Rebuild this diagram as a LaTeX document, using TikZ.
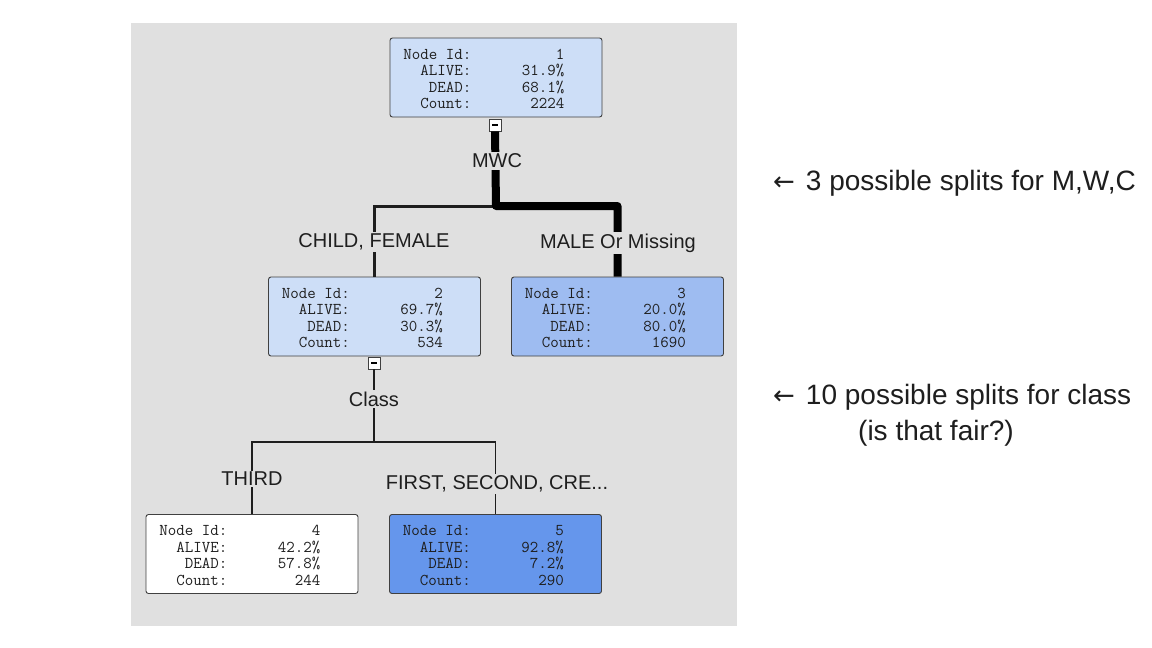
\documentclass[tikz,border=0pt]{standalone}
\usepackage{fontspec}
\setmainfont{Liberation Sans}
\newfontfamily\arrowfont{DejaVu Sans}
\definecolor{panel}{HTML}{E0E0E0}
\definecolor{paleblue}{HTML}{CDDEF7}
\definecolor{midblue}{HTML}{9EBCF1}
\definecolor{deepblue}{HTML}{6596EC}
\definecolor{ink}{HTML}{1E1E1E}
\tikzset{
  x=1pt, y=-1pt,
  treebox/.style={draw=black!75, rounded corners=2.5pt, minimum width=212pt,
    minimum height=79pt, inner sep=0pt, line width=0.9pt},
  ttl/.style={font=\ttfamily\fontsize{16.5}{17}\selectfont, anchor=base east,
    inner sep=0pt, text=ink},
  branch/.style={font=\fontsize{20}{24}\selectfont, fill=panel, inner sep=1.5pt, text=ink},
  note/.style={font=\fontsize{28}{32}\selectfont, anchor=west, inner sep=0pt, text=ink},
  toggle/.style={draw=black!75, fill=white, minimum size=12pt, inner sep=0pt,
    line width=0.8pt,
    path picture={\draw[line width=1.2pt, black]
      ([xshift=3pt]path picture bounding box.west) --
      ([xshift=-3pt]path picture bounding box.east);}},
  heavy/.style={line width=8pt, draw=black, line join=round},
  medium/.style={line width=3pt, draw=ink},
  light/.style={line width=2pt, draw=ink},
  hair/.style={line width=1.5pt, draw=ink},
}
\newcommand\treenode[8]{%
  \node[treebox, fill=#4] (#1) at (#2,#3) {};
  \node[ttl] at ([shift={(82,21.5)}]#1.north west) {Node Id:};
  \node[ttl] at ([shift={(175,21.5)}]#1.north west) {#5};
  \node[ttl] at ([shift={(82,38)}]#1.north west) {ALIVE:};
  \node[ttl] at ([shift={(175,38)}]#1.north west) {#6};
  \node[ttl] at ([shift={(82,54.5)}]#1.north west) {DEAD:};
  \node[ttl] at ([shift={(175,54.5)}]#1.north west) {#7};
  \node[ttl] at ([shift={(82,71)}]#1.north west) {Count:};
  \node[ttl] at ([shift={(175,71)}]#1.north west) {#8};
}
\newcommand\leftarr{{\arrowfont\fontsize{26}{28}\selectfont ←}\hspace{11pt}}
\begin{document}
\begin{tikzpicture}
\useasboundingbox (0,0) rectangle (1152,648);
\fill[white] (0,0) rectangle (1152,648);
\fill[panel] (131,23) rectangle (737,626);

% nodes
\treenode{n1}{496}{77.5}{paleblue}{1}{31.9\%}{68.1\%}{2224}
\treenode{n2}{374.5}{316.5}{paleblue}{2}{69.7\%}{30.3\%}{534}
\treenode{n3}{617.5}{316.5}{midblue}{3}{20.0\%}{80.0\%}{1690}
\treenode{n4}{252}{554}{white}{4}{42.2\%}{57.8\%}{244}
\treenode{n5}{495.5}{554}{deepblue}{5}{92.8\%}{7.2\%}{290}

\node[toggle] (t1) at (495,125) {};
\node[toggle] (t2) at (374,363) {};

\coordinate (j1) at (496,206);
\coordinate (j2) at (374,442);

% connectors
\draw[medium] (j1) -| (n2.north);
\draw[heavy] (t1.south) -- (j1) -| (n3.north);
\draw[light] (t2.south) -- (j2);
\draw[hair] (j2) -| (n4.north);
\draw[hair] (j2) -| (n5.north);

% branch labels
\node[branch] (lmwc) at (497,161) {MWC};
\node[branch] (lcf) at (374,242) {CHILD, FEMALE};
\node[branch] (lmm) at (618,243) {MALE Or Missing};
\node[branch] (lcl) at (374,399) {Class};
\node[branch] (lth) at (252,479) {THIRD};
\node[branch] (lfs) at (497,484) {FIRST, SECOND, CRE...};

% notes
\node[note] (note1) at (773,183) {\leftarr 3 possible splits for M,W,C};
\node[note] (note2) at (773,397) {\leftarr 10 possible splits for class};
\node[note] (note3) at (858,433) {(is that fair?)};
\end{tikzpicture}
\end{document}
